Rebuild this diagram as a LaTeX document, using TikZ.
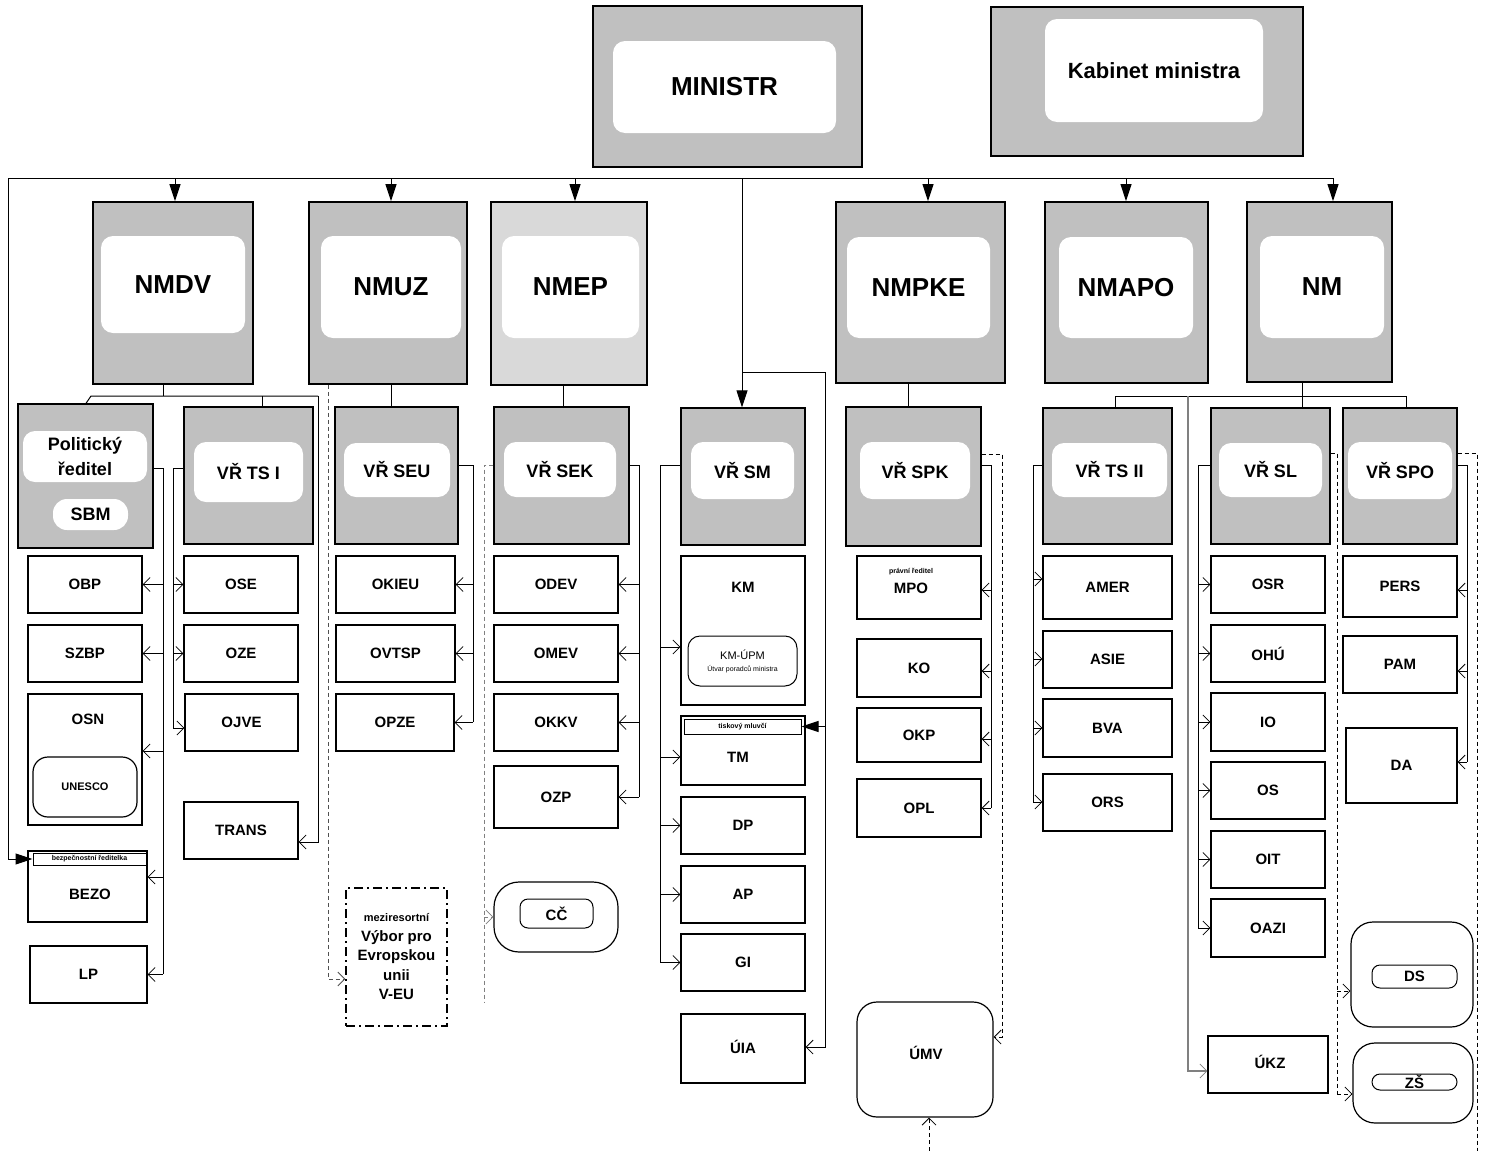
\documentclass[tikz,border=0pt]{standalone}
\usepackage{fontspec}
\setmainfont{Liberation Sans}
\usetikzlibrary{arrows.meta}
\definecolor{gA}{HTML}{C0C0C0}
\definecolor{gB}{HTML}{D9D9D9}
\definecolor{gL}{HTML}{808080}
\definecolor{gD}{HTML}{505050}
\newcommand\fz[2]{\fontsize{#1}{#2}\selectfont}
\def\bxsplit#1,#2\endbxsplit{\def\bxX{#1}\def\bxY{#2}}
\newcommand\bx[5][]{%
  \bxsplit#3\endbxsplit\let\bxXa\bxX\let\bxYa\bxY
  \bxsplit#4\endbxsplit
  \pgfmathsetmacro\bxW{\bxX-\bxXa}\pgfmathsetmacro\bxH{\bxY-\bxYa}%
  \pgfmathsetmacro\bxCx{(\bxXa+\bxX)/2}\pgfmathsetmacro\bxCy{(\bxYa+\bxY)/2}%
  \node[#1, minimum width=\bxW pt, minimum height=\bxH pt] (#2) at (\bxCx,\bxCy) {#5};}
\begin{document}
\begin{tikzpicture}[x=1pt,y=-1pt,
  outer/.style={draw, fill=gA, line width=1.8pt, inner sep=0pt},
  outs/.style={outer, line width=1.3pt},
  inwhite/.style={fill=white, draw=none, rounded corners=12pt, inner sep=0pt, align=center},
  huge/.style={font=\bfseries\fz{26}{30}},
  vr/.style={font=\bfseries\fz{18}{22}},
  lab/.style={font=\bfseries\fz{15}{18}, inner sep=0pt},
  ubox/.style={draw, fill=white, line width=1.2pt, inner sep=0pt, align=center, font=\bfseries\fz{15}{18}},
  rbox/.style={ubox, rounded corners=20pt},
  pill/.style={draw, fill=white, line width=1pt, rounded corners=8pt, inner sep=0pt, font=\bfseries\fz{15}{18}},
  tagbox/.style={draw, fill=white, line width=1pt, inner sep=0pt, font=\bfseries\fz{7}{8}},
  conn/.style={draw, line width=1pt},
  oa/.style={conn, -{Straight Barb[length=7pt,width=14pt,line width=0.8pt]}},
  ta/.style={conn, -{Triangle[length=17pt,width=11pt]}},
  dsh/.style={conn, line width=0.8pt, dash pattern=on 4pt off 3pt},
]
\useasboundingbox (0,0) rectangle (1486,1151);
\fill[white] (0,0) rectangle (1486,1151);

% ---------- top ----------
\bx[outer]{ministr}{593,6}{862,167}{}
\bx[inwhite,huge]{ministrI}{613,41}{836,133}{MINISTR}
\bx[outer,line width=1.3pt]{kab}{991,7}{1303,156}{}
\bx[inwhite,font=\bfseries\fz{22}{26}]{kabI}{1045,19}{1263,122}{Kabinet ministra}

% ---------- level 2 ----------
\bx[outer]{nmdv}{93,202}{253,384}{}
\bx[inwhite,huge]{nmdvI}{101,236}{245,333}{NMDV}
\bx[outer]{nmuz}{309,202}{467,384}{}
\bx[inwhite,huge]{nmuzI}{321,236}{461,338}{NMUZ}
\bx[outer,fill=gB]{nmep}{491,202}{647,385}{}
\bx[inwhite,huge]{nmepI}{502,236}{639,338}{NMEP}
\bx[outer]{nmpke}{836,202}{1005,383}{}
\bx[inwhite,huge]{nmpkeI}{847,237}{990,338}{NMPKE}
\bx[outer]{nmapo}{1045,202}{1208,383}{}
\bx[inwhite,huge]{nmapoI}{1059,237}{1193,338}{NMAPO}
\bx[outer]{nm}{1247,202}{1392,382}{}
\bx[inwhite,huge]{nmI}{1260,236}{1384,338}{NM}

% ---------- level 3 ----------
\bx[outs]{pol}{18,404}{153,548}{}
\bx[inwhite,font=\bfseries\fz{18}{25}]{polI}{23,431}{147,482}{Politický\\ředitel}
\bx[inwhite,rounded corners=14pt,vr]{sbm}{53,499}{128,530}{SBM}
\bx[outs]{vrtsi}{184,407}{313,544}{}
\bx[inwhite,vr]{vrtsiI}{194,442}{303,502}{VŘ TS I}
\bx[outs]{vrseu}{335,407}{458,544}{}
\bx[inwhite,vr]{vrseuI}{344,443}{450,497}{VŘ SEU}
\bx[outs]{vrsek}{494,407}{629,544}{}
\bx[inwhite,vr]{vrsekI}{504,442}{616,497}{VŘ SEK}
\bx[outs]{vrsm}{681,408}{805,545}{}
\bx[inwhite,vr]{vrsmI}{691,442}{794,499}{VŘ SM}
\bx[outs]{vrspk}{846,407}{981,546}{}
\bx[inwhite,vr]{vrspkI}{860,442}{970,499}{VŘ SPK}
\bx[outs]{vrtsii}{1043,408}{1172,544}{}
\bx[inwhite,vr]{vrtsiiI}{1052,443}{1167,497}{VŘ TS II}
\bx[outs]{vrsl}{1211,408}{1330,544}{}
\bx[inwhite,vr]{vrslI}{1219,443}{1322,497}{VŘ SL}
\bx[outs]{vrspo}{1343,408}{1457,544}{}
\bx[inwhite,vr]{vrspoI}{1348,442}{1452,499}{VŘ SPO}

% ---------- NMDV units ----------
\bx[ubox]{obp}{28,556}{142,613}{OBP}
\bx[ubox]{szbp}{28,625}{142,682}{SZBP}
\bx[ubox]{osn}{28,694}{142,825}{}
\node[lab] (osnT) at (88,719) {OSN};
\bx[ubox,rounded corners=15pt,font=\bfseries\fz{11}{13}]{unesco}{33,757}{137,817}{UNESCO}
\bx[ubox]{bezo}{28,851}{147,922}{}
\bx[tagbox]{bezoL}{33,853}{146,865}{bezpečnostní ředitelka}
\node[lab] (bezoT) at (90,894) {BEZO};
\bx[ubox]{lp}{30,946}{147,1003}{LP}
\bx[ubox]{ose}{184,556}{298,613}{OSE}
\bx[ubox]{oze}{184,625}{298,682}{OZE}
\bx[ubox]{ojve}{185,694}{298,751}{OJVE}
\bx[ubox]{trans}{184,802}{298,859}{TRANS}

% ---------- NMUZ units ----------
\bx[ubox]{okieu}{336,556}{455,613}{OKIEU}
\bx[ubox]{ovtsp}{336,625}{455,682}{OVTSP}
\bx[ubox]{opze}{336,694}{454,751}{OPZE}
\bx[ubox,line width=1.3pt,dash pattern=on 9pt off 4pt on 2pt off 4pt,font=\bfseries\fz{15}{19.5}]{veu}{346,888}{447,1026}{{\fz{11}{13}meziresortní}\\Výbor pro\\Evropskou\\unii\\V-EU}

% ---------- NMEP units ----------
\bx[ubox]{odev}{494,556}{618,613}{ODEV}
\bx[ubox]{omev}{494,625}{618,682}{OMEV}
\bx[ubox]{okkv}{494,694}{618,751}{OKKV}
\bx[ubox]{ozp}{494,766}{618,828}{OZP}
\bx[ubox,rounded corners=25pt]{cc}{494,882}{618,952}{}
\bx[pill]{ccI}{520,899}{593,928}{CČ}

% ---------- VR SM units ----------
\bx[ubox]{km}{681,556}{805,705}{}
\node[lab] (kmT) at (743,587) {KM};
\bx[draw,fill=white,line width=1pt,rounded corners=12pt,inner sep=0pt,align=center]{kmupm}{688,636}{797,686}{\fz{11}{12}KM-ÚPM\\\fz{7}{9}Útvar poradců ministra}
\bx[ubox]{tm}{681,716}{805,785}{}
\bx[tagbox]{tmL}{684,719}{801,734}{tiskový mluvčí}
\node[lab] (tmT) at (738,757) {TM};
\bx[ubox]{dp}{681,797}{805,854}{DP}
\bx[ubox]{ap}{681,866}{805,923}{AP}
\bx[ubox]{gi}{681,934}{805,991}{GI}
\bx[ubox]{uia}{681,1014}{805,1083}{}
\node[lab] (uiaT) at (743,1047) {ÚIA};

% ---------- VR SPK units ----------
\bx[ubox]{mpo}{857,556}{981,619}{}
\node[font=\bfseries\fz{7}{8},inner sep=0pt] (mpoL) at (911,572) {právní ředitel};
\node[lab] (mpoT) at (911,588) {MPO};
\bx[ubox]{ko}{857,639}{981,697}{KO}
\bx[ubox]{okp}{857,708}{981,762}{OKP}
\bx[ubox]{opl}{857,779}{981,837}{OPL}
\bx[rbox]{umv}{857,1002}{993,1117}{}
\node[lab] (umvT) at (926,1053) {ÚMV};

% ---------- VR TS II units ----------
\bx[ubox]{amer}{1043,556}{1172,619}{AMER}
\bx[ubox]{asie}{1043,631}{1172,688}{ASIE}
\bx[ubox]{bva}{1043,699}{1172,757}{BVA}
\bx[ubox]{ors}{1043,774}{1172,831}{ORS}

% ---------- VR SL units ----------
\bx[ubox]{osr}{1211,556}{1325,613}{OSR}
\bx[ubox]{ohu}{1211,625}{1325,682}{OHÚ}
\bx[ubox]{io}{1211,693}{1325,751}{IO}
\bx[ubox]{os}{1211,762}{1325,819}{OS}
\bx[ubox]{oit}{1211,831}{1325,888}{OIT}
\bx[ubox]{oazi}{1211,899}{1325,957}{OAZI}
\bx[ubox]{ukz}{1208,1036}{1328,1093}{}
\node[lab] (ukzT) at (1270,1062) {ÚKZ};

% ---------- VR SPO units ----------
\bx[ubox]{pers}{1343,556}{1457,617}{PERS}
\bx[ubox]{pam}{1343,636}{1457,693}{PAM}
\bx[ubox]{da}{1346,728}{1457,803}{DA}
\bx[ubox,rounded corners=22pt]{ds}{1351,922}{1473,1027}{}
\bx[pill]{dsI}{1372,965}{1457,988}{DS}
\bx[ubox,rounded corners=22pt]{zs}{1353,1043}{1473,1123}{}
\bx[pill]{zsI}{1372,1074}{1457,1090}{ZŠ}

% ================= connectors =================
\coordinate (busL) at (8,178);
\coordinate (busR) at (1333,178);
\draw[conn] (busL) -- (busR);
\draw[ta] (busR) -- (busR |- nm.north);
\draw[ta] (175,0 |- busL) -- (175,0 |- nmdv.north);
\draw[ta] (391,0 |- busL) -- (391,0 |- nmuz.north);
\draw[ta] (575,0 |- busL) -- (575,0 |- nmep.north);
\draw[ta] (928,0 |- busL) -- (928,0 |- nmpke.north);
\draw[ta] (1126,0 |- busL) -- (1126,0 |- nmapo.north);
\draw[ta] (742,0 |- busL) -- (742,0 |- vrsm.north);
\draw[ta] (busL) -- (busL |- bezoL.west) -- (bezoL.west);

% minister direct line to TM and UIA
\coordinate (smT) at (825,372);
\draw[conn] (742,372) -- (smT);
\draw[oa] (smT) -- (smT |- 0,1047) -- (uia.east |- 0,1047);
\draw[ta] (smT |- tmL.east) -- (tmL.east);

% NMDV
\draw[conn] (163,0 |- nmdv.south) -- (163,396);
\draw[conn] (86,0 |- pol.north) -- (91,396) -- (318,396);
\draw[conn] (262,396) -- (262,0 |- vrtsi.north);
\draw[oa] (318,396) -- (318,842) -- (trans.east |- 0,842);
\draw[conn] (pol.east |- 0,468) -- (163,468) -- (163,974);
\draw[oa] (163,0 |- obp.east) -- (obp.east);
\draw[oa] (163,0 |- szbp.east) -- (szbp.east);
\draw[oa] (163,751) -- (osn.east |- 0,751);
\draw[oa] (163,877) -- (bezo.east |- 0,877);
\draw[oa] (163,0 |- lp.east) -- (lp.east);
\draw[conn] (vrtsi.west |- 0,468) -- (173,468) -- (173,728);
\draw[oa] (173,0 |- ose.west) -- (ose.west);
\draw[oa] (173,0 |- oze.west) -- (oze.west);
\draw[oa] (173,728) -- (ojve.west |- 0,728);

% NMUZ
\draw[conn] (391,0 |- nmuz.south) -- (391,0 |- vrseu.north);
\draw[dsh,draw=gD,-{Straight Barb[length=7pt,width=14pt,line width=0.8pt]}] (328,0 |- nmuz.south) -- (328,979) -- (veu.west |- 0,979);
\draw[conn] (vrseu.east |- 0,465) -- (473,465) -- (473,722);
\draw[oa] (473,0 |- okieu.east) -- (okieu.east);
\draw[oa] (473,0 |- ovtsp.east) -- (ovtsp.east);
\draw[oa] (473,0 |- opze.east) -- (opze.east);

% NMEP
\draw[conn] (563,0 |- nmep.south) -- (563,0 |- vrsek.north);
\draw[conn] (vrsek.east |- 0,465) -- (639,465) -- (639,797);
\draw[oa] (639,0 |- odev.east) -- (odev.east);
\draw[oa] (639,0 |- omev.east) -- (omev.east);
\draw[oa] (639,0 |- okkv.east) -- (okkv.east);
\draw[oa] (639,0 |- ozp.east) -- (ozp.east);
\draw[dsh,draw=gL] (vrsek.west |- 0,465) -- (484,465) -- (484,1002);
\draw[dsh,draw=gL,-{Straight Barb[length=7pt,width=14pt,line width=0.8pt]}] (484,0 |- cc.west) -- (cc.west);

% VR SM
\draw[conn] (vrsm.west |- 0,465) -- (660,465) -- (660,963);
\draw[oa] (660,647) -- (km.west |- 0,647);
\draw[oa] (660,757) -- (tm.west |- 0,757);
\draw[oa] (660,0 |- dp.west) -- (dp.west);
\draw[oa] (660,0 |- ap.west) -- (ap.west);
\draw[oa] (660,0 |- gi.west) -- (gi.west);

% NMPKE
\draw[conn] (908,0 |- nmpke.south) -- (908,0 |- vrspk.north);
\draw[conn] (vrspk.east |- 0,465) -- (991,465) -- (991,808);
\draw[oa] (991,590) -- (mpo.east |- 0,590);
\draw[oa] (991,671) -- (ko.east |- 0,671);
\draw[oa] (991,739) -- (okp.east |- 0,739);
\draw[oa] (991,0 |- opl.east) -- (opl.east);
\draw[dsh,-{Straight Barb[length=7pt,width=14pt,line width=0.8pt]}] (vrspk.east |- 0,454) -- (1002,454) -- (1002,1037) -- (umv.east |- 0,1037);
\coordinate (umvIn) at (929,1151);
\draw[dsh,-{Straight Barb[length=7pt,width=14pt,line width=0.8pt]}] (umvIn) -- (umvIn |- umv.south);

% NM
\draw[conn] (1302,0 |- nm.south) -- (1302,396);
\draw[conn] (1115,0 |- vrtsii.north) -- (1115,396) -- (1406,396) -- (1406,0 |- vrspo.north);
\draw[conn] (1302,396) -- (1302,0 |- vrsl.north);
\draw[oa,draw=gL,line width=1.6pt] (1188,396) -- (1188,1071) -- (ukz.west |- 0,1071);

% VR TS II
\draw[conn] (vrtsii.west |- 0,465) -- (1033,465) -- (1033,802);
\draw[oa] (1033,579) -- (amer.west |- 0,579);
\draw[oa] (1033,659) -- (asie.west |- 0,659);
\draw[oa] (1033,728) -- (bva.west |- 0,728);
\draw[oa] (1033,802) -- (ors.west |- 0,802);

% VR SL
\draw[conn] (vrsl.west |- 0,465) -- (1198,465) -- (1198,929);
\draw[oa] (1198,0 |- osr.west) -- (osr.west);
\draw[oa] (1198,0 |- ohu.west) -- (ohu.west);
\draw[oa] (1198,0 |- io.west) -- (io.west);
\draw[oa] (1198,0 |- os.west) -- (os.west);
\draw[oa] (1198,0 |- oit.west) -- (oit.west);
\draw[oa] (1198,0 |- oazi.west) -- (oazi.west);
\draw[dsh] (vrsl.east |- 0,453) -- (1337,453) -- (1337,1094);
\draw[dsh,-{Straight Barb[length=7pt,width=14pt,line width=0.8pt]}] (1337,991) -- (ds.west |- 0,991);
\draw[dsh,-{Straight Barb[length=7pt,width=14pt,line width=0.8pt]}] (1337,1094) -- (zs.west |- 0,1094);

% VR SPO
\draw[conn] (vrspo.east |- 0,465) -- (1467,465) -- (1467,762);
\draw[oa] (1467,590) -- (pers.east |- 0,590);
\draw[oa] (1467,671) -- (pam.east |- 0,671);
\draw[oa] (1467,762) -- (da.east |- 0,762);
\draw[dsh] (vrspo.east |- 0,453) -- (1477,453) -- (1477,1151);
\end{tikzpicture}
\end{document}
